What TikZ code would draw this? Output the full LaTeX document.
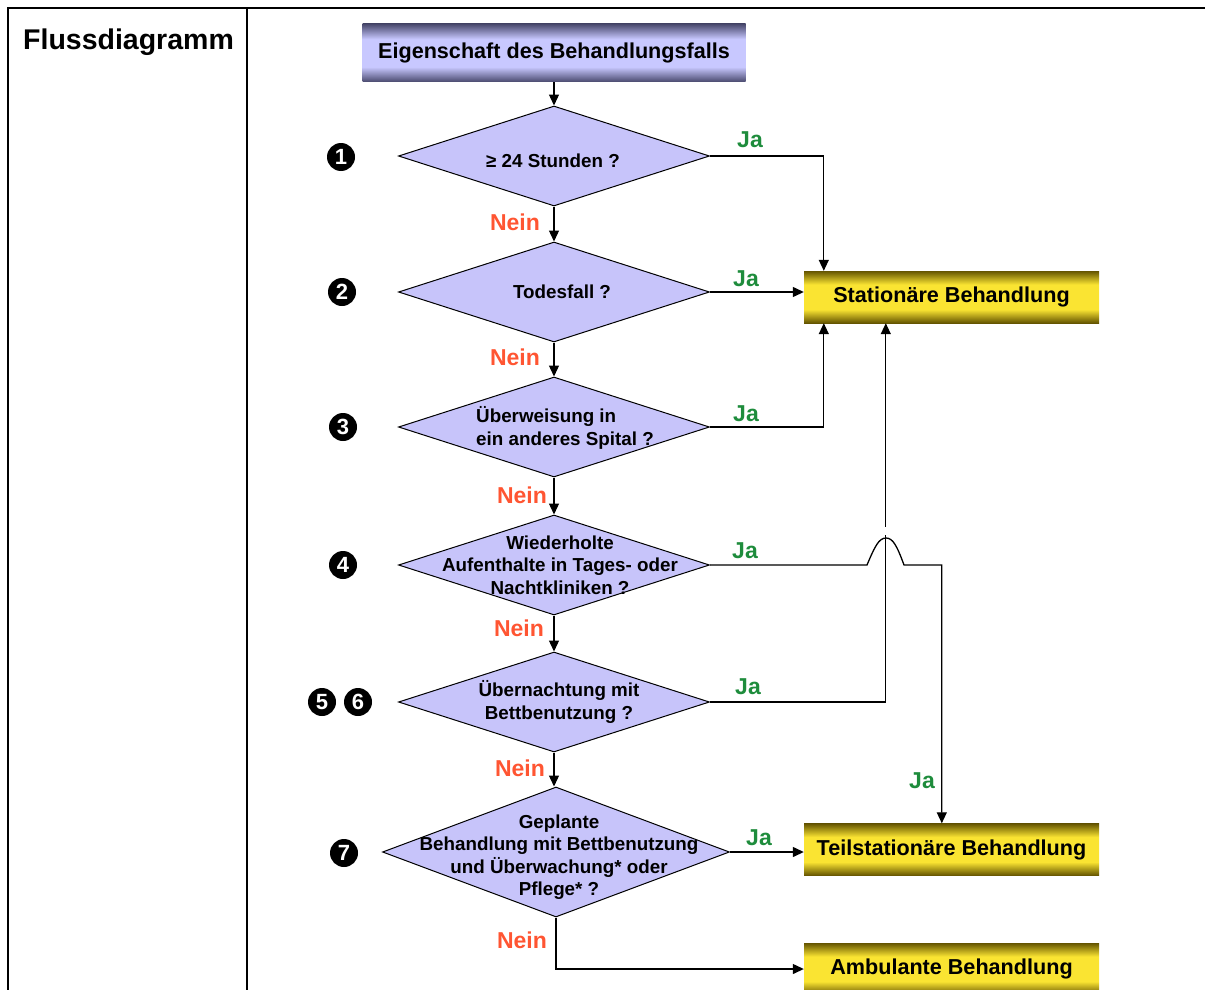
\documentclass[tikz,border=0pt]{standalone}
\usepackage{fontspec}
\setmainfont{Liberation Sans}
\usetikzlibrary{arrows.meta,shapes.geometric,calc}
\definecolor{dfill}{RGB}{199,196,250}
\definecolor{bdark}{RGB}{72,72,108}
\definecolor{blight}{RGB}{200,200,255}
\definecolor{ydark}{RGB}{100,84,0}
\definecolor{ylight}{RGB}{250,228,50}
\definecolor{jagreen}{RGB}{30,140,60}
\definecolor{neinred}{RGB}{255,85,50}
\pgfdeclareverticalshading{bluebar}{100bp}{color(0bp)=(bdark); color(25bp)=(bdark); color(38bp)=(blight); color(62bp)=(blight); color(75bp)=(bdark); color(100bp)=(bdark)}
\pgfdeclareverticalshading{yellowbar}{100bp}{color(0bp)=(ydark); color(25bp)=(ydark); color(38bp)=(ylight); color(62bp)=(ylight); color(75bp)=(ydark); color(100bp)=(ydark)}
\begin{document}
\begin{tikzpicture}[x=1pt,y=-1pt,
  frame/.style={line width=2pt, line cap=rect},
  bluebox/.style={rectangle, shade, shading=bluebar, inner sep=0pt, minimum width=383, minimum height=58, font=\bfseries\fontsize{21.6}{21.6}\selectfont},
  yellowbox/.style={rectangle, shade, shading=yellowbar, inner sep=0pt, minimum width=295, minimum height=52, font=\bfseries\fontsize{21.6}{21.6}\selectfont},
  dia/.style={diamond, draw=black, line width=1pt, fill=dfill, inner sep=0pt, minimum width=311, minimum height=100},
  dtext/.style={font=\bfseries\fontsize{18.8}{22.5}\selectfont, align=center, inner sep=0pt},
  ja/.style={text=jagreen, font=\bfseries\fontsize{23}{23}\selectfont, inner sep=0pt},
  nein/.style={text=neinred, font=\bfseries\fontsize{23}{23}\selectfont, inner sep=0pt},
  numc/.style={circle, fill=black, text=white, inner sep=0pt, minimum size=28, font=\bfseries\fontsize{22}{22}\selectfont},
  arr/.style={line width=1.3pt, -{Triangle[length=11pt,width=10pt]}}
]
\useasboundingbox (0,0) rectangle (1205,990);
\clip (0,0) rectangle (1205,990);

% table frame
\draw[frame] (8,995) -- (8,8) -- (1210,8);
\draw[frame] (247,8) -- (247,995);
\node[font=\bfseries\fontsize{28.5}{28.5}\selectfont, anchor=base west, inner sep=0pt] (title) at (23,50) {Flussdiagramm};

% boxes
\node[bluebox] (b0) at (554,53) {Eigenschaft des Behandlungsfalls};
\node[yellowbox] (stat) at (951.5,297) {Stationäre Behandlung};
\node[yellowbox] (teil) at (951.5,849.5) {Teilstationäre Behandlung};
\node[yellowbox] (amb) at (951.5,969) {Ambulante Behandlung};

% diamonds
\node[dia] (d1) at (554,156) {};
\node[dia] (d2) at (554,292) {};
\node[dia] (d3) at (554,427) {};
\node[dia] (d4) at (554,565) {};
\node[dia] (d5) at (554,702) {};
\node[dia, minimum width=347, minimum height=130] (d7) at (556,852) {};

\node[dtext] (t1) at (553,161) {≥ 24 Stunden ?};
\node[dtext] (t2) at (562,292) {Todesfall ?};
\node[dtext, align=left] (t3) at (565,428) {Überweisung in\\ein anderes Spital ?};
\node[dtext] (t4) at (560,565) {Wiederholte\\Aufenthalte in Tages- oder\\Nachtkliniken ?};
\node[dtext] (t5) at (559,702) {Übernachtung mit\\Bettbenutzung ?};
\node[dtext] (t7) at (559,857) {Geplante\\Behandlung mit Bettbenutzung\\und Überwachung* oder\\Pflege* ?};

% numbers
\node[numc] (n1) at (341,157) {1};
\node[numc] (n2) at (342,292) {2};
\node[numc] (n3) at (343,427) {3};
\node[numc] (n4) at (343,565) {4};
\node[numc] (n5) at (322,702) {5};
\node[numc] (n6) at (358,702) {6};
\node[numc] (n7) at (344,853) {7};

% vertical flow
\draw[arr] (b0.south) -- (d1.north);
\draw[arr] (d1.south) -- (d2.north);
\draw[arr] (d2.south) -- (d3.north);
\draw[arr] (d3.south) -- (d4.north);
\draw[arr] (d4.south) -- (d5.north);
\draw[arr] (d5.south) -- (d5.south |- d7.north);
\draw[arr] (d7.south) |- (amb.west);

% Ja connectors
\draw[arr] (d1.east) -| ([xshift=20]stat.north west);
\draw[arr] (d2.east) -- (d2.east -| stat.west);
\draw[arr] (d3.east) -| ([xshift=20]stat.south west);
\draw[arr] (d5.east) -| ([xshift=82]stat.south west);
\fill[white] (884,527) rectangle (888,535);
\coordinate (bl) at (867,565);
\coordinate (bt) at (886,538);
\coordinate (br) at (904,565);
\draw[arr] (d4.east) -- (bl) .. controls (875,546) and (879,538) .. (bt) .. controls (893,538) and (897,546) .. (br) -| ([xshift=138]teil.north west);
\draw[arr] (d7.east) -- (d7.east -| teil.west);

% labels
\node[ja] (ja1) at (750,140) {Ja};
\node[ja] (ja2) at (746,279) {Ja};
\node[ja] (ja3) at (746,414) {Ja};
\node[ja] (ja4) at (745,551) {Ja};
\node[ja] (ja5) at (748,687) {Ja};
\node[ja] (ja6) at (922,781) {Ja};
\node[ja] (ja7) at (759,838) {Ja};
\node[nein] (ne1) at (515,222) {Nein};
\node[nein] (ne2) at (515,357) {Nein};
\node[nein] (ne3) at (522,495) {Nein};
\node[nein] (ne4) at (519,628) {Nein};
\node[nein] (ne5) at (520,768) {Nein};
\node[nein] (ne7) at (522,940) {Nein};
\end{tikzpicture}
\end{document}
